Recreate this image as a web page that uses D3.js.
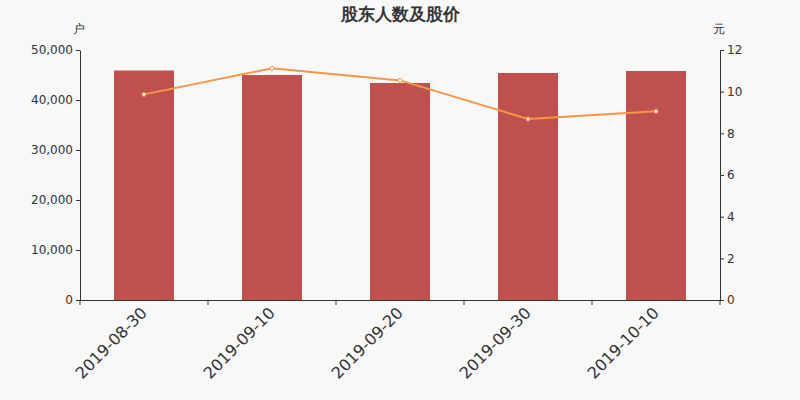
<!DOCTYPE html>
<html><head><meta charset="utf-8">
<script src="https://cdn.jsdelivr.net/npm/d3@7"></script>
<style>body{margin:0;background:#f8f8f8;} svg{display:block;font-family:"DejaVu Sans",sans-serif;}</style>
</head><body>
<script>
const categories = ["2019-08-30","2019-09-10","2019-09-20","2019-09-30","2019-10-10"];
const holders = [45900, 45000, 43400, 45400, 45800];
const prices = [9.87, 11.12, 10.54, 8.69, 9.06];
const leftTicks = [0,10000,20000,30000,40000,50000];
const rightTicks = [0,2,4,6,8,10,12];

const W=800,H=400, L=80, R=720, T=50, B=300;
const svg=d3.select("body").append("svg").attr("width",W).attr("height",H);
svg.append("rect").attr("width",W).attr("height",H).attr("fill","#f8f8f8");

const x=d3.scaleBand().domain(categories).range([L,R]);
const yL=d3.scaleLinear().domain([0,50000]).range([B,T]);
const yR=d3.scaleLinear().domain([0,12]).range([B,T]);

svg.append("text").attr("x",400).attr("y",20).attr("text-anchor","middle")
  .attr("font-size",17).attr("font-weight","bold").attr("fill","#333").text("股东人数及股价");
svg.append("text").attr("x",79).attr("y",33).attr("text-anchor","middle").attr("font-size",12).attr("fill","#333").text("户");
svg.append("text").attr("x",719).attr("y",33).attr("text-anchor","middle").attr("font-size",12).attr("fill","#333").text("元");

const bw=60;
svg.selectAll("rect.bar").data(categories).enter().append("rect").attr("class","bar")
  .attr("x",d=>x(d)+x.bandwidth()/2-bw/2).attr("width",bw)
  .attr("y",(d,i)=>yL(holders[i])).attr("height",(d,i)=>B-yL(holders[i]))
  .attr("fill","#c0504d");

const fmt=d3.format(",");
const ga=svg.append("g").attr("transform",`translate(${L},0)`)
  .call(d3.axisLeft(yL).tickValues(leftTicks).tickFormat(fmt).tickSize(4).tickSizeOuter(0));
const gr=svg.append("g").attr("transform",`translate(${R},0)`)
  .call(d3.axisRight(yR).tickValues(rightTicks).tickSize(4).tickSizeOuter(0));
const gx=svg.append("g").attr("transform",`translate(0,${B})`)
  .call(d3.axisBottom(x).tickSize(0).tickSizeOuter(0));
[ga,gr,gx].forEach(g=>{g.selectAll("path,line").attr("stroke","#333");g.selectAll("text").attr("fill","#333").attr("font-size",12).attr("font-family","DejaVu Sans");});
gx.selectAll(".tick text").attr("font-size",16).attr("text-anchor","end")
  .attr("transform","translate(0,10) rotate(-45)").attr("dy","0.35em").attr("y",0).attr("x",0);
const bounds=categories.map(c=>x(c)).concat([R]);
svg.selectAll("line.xt").data(bounds).enter().append("line")
  .attr("x1",d=>d).attr("x2",d=>d).attr("y1",B).attr("y2",B+5).attr("stroke","#333");

const line=d3.line().x((d,i)=>x(categories[i])+x.bandwidth()/2).y(d=>yR(d));
svg.append("path").datum(prices).attr("d",line).attr("fill","none").attr("stroke","#f79646").attr("stroke-width",2);
svg.selectAll("circle.pt").data(prices).enter().append("circle")
  .attr("cx",(d,i)=>x(categories[i])+x.bandwidth()/2).attr("cy",d=>yR(d)).attr("r",2)
  .attr("fill","#fff").attr("stroke","#f79646").attr("stroke-width",1);
</script>
</body></html>
